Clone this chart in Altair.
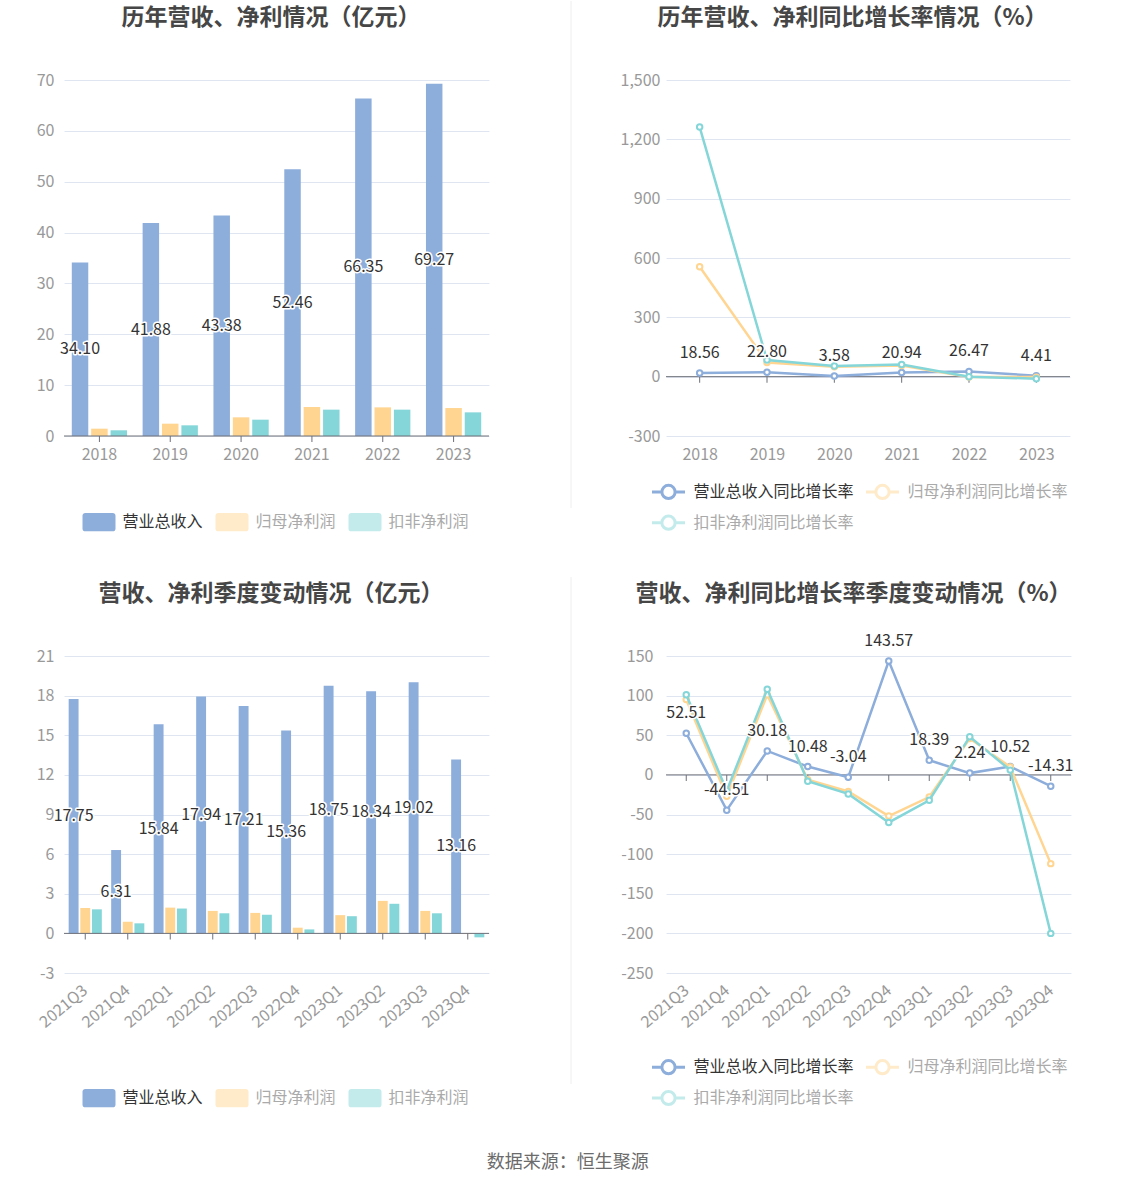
import altair as alt
import pandas as pd

FONT = "Noto Sans CJK SC"

# ---------------- data ----------------
years = ["2018", "2019", "2020", "2021", "2022", "2023"]
revenue = [34.10, 41.88, 43.38, 52.46, 66.35, 69.27]
net_profit = [1.44, 2.42, 3.67, 5.70, 5.63, 5.50]
deducted_profit = [1.12, 2.10, 3.21, 5.18, 5.18, 4.65]

revenue_yoy = [18.56, 22.80, 3.58, 20.94, 26.47, 4.41]
net_profit_yoy = [556.0, 72.0, 50.0, 56.0, -1.2, -2.3]
deducted_profit_yoy = [1262.0, 84.0, 54.0, 61.0, 0.0, -10.2]

quarters = ["2021Q3", "2021Q4", "2022Q1", "2022Q2", "2022Q3",
            "2022Q4", "2023Q1", "2023Q2", "2023Q3", "2023Q4"]
q_revenue = [17.75, 6.31, 15.84, 17.94, 17.21, 15.36, 18.75, 18.34, 19.02, 13.16]
q_net_profit = [1.92, 0.88, 1.95, 1.70, 1.55, 0.43, 1.38, 2.46, 1.70, -0.05]
q_deducted_profit = [1.82, 0.76, 1.88, 1.52, 1.41, 0.30, 1.30, 2.24, 1.52, -0.30]

q_revenue_yoy = [52.51, -44.51, 30.18, 10.48, -3.04, 143.57, 18.39, 2.24, 10.52, -14.31]
q_net_profit_yoy = [95.0, -27.0, 101.0, -6.0, -21.0, -52.0, -28.0, 46.0, 10.0, -112.0]
q_deducted_profit_yoy = [101.0, -20.0, 108.0, -8.0, -24.0, -60.0, -32.0, 48.0, 6.0, -200.0]

bar_series = ["营业总收入", "归母净利润", "扣非净利润"]
line_series = ["营业总收入同比增长率", "归母净利润同比增长率", "扣非净利润同比增长率"]

annual_ticks = [0, 10, 20, 30, 40, 50, 60, 70]
annual_yoy_ticks = [-300, 0, 300, 600, 900, 1200, 1500]
quarter_ticks = [-3, 0, 3, 6, 9, 12, 15, 18, 21]
quarter_yoy_ticks = [-250, -200, -150, -100, -50, 0, 50, 100, 150]

titles = ["历年营收、净利情况（亿元）", "历年营收、净利同比增长率情况（%）",
          "营收、净利季度变动情况（亿元）", "营收、净利同比增长率季度变动情况（%）"]
footer = "数据来源：恒生聚源"

# ---------------- styles ----------------
BRIGHT = ["#8DADDB", "#FFD591", "#85D6D8"]
LEGEND_COLORS = ["#8DADDB", "#FFEBC9", "#C4EBEB"]
AXIS_GRAY = "#999999"
GRID = "#E0E6F1"
AXIS_LINE = "#6E7079"
DARK = "#333333"
TITLE_COLOR = "#464646"
Y_LABEL_EXPR = "replace(format(datum.value, ','), '\u2212', '-')"
LABEL_COLOR_EXPR = {"expr": "indexof(['营业总收入', '营业总收入同比增长率'], datum.label) >= 0 ? '#333333' : '#AAAAAA'"}

RECT_PATH = ("M-0.82,-0.56 L0.82,-0.56 Q1,-0.56 1,-0.38 L1,0.38 Q1,0.56 0.82,0.56 "
             "L-0.82,0.56 Q-1,0.56 -1,0.38 L-1,-0.38 Q-1,-0.56 -0.82,-0.56 Z")
LINE_PATH = ("M-1,0 L-0.4,0 M0.4,0 L1,0 "
             "M0.4,0 C0.4,0.2209 0.2209,0.4 0,0.4 C-0.2209,0.4 -0.4,0.2209 -0.4,0 "
             "C-0.4,-0.2209 -0.2209,-0.4 0,-0.4 C0.2209,-0.4 0.4,-0.2209 0.4,0 Z")


def long_df(cats, names, value_lists):
    rows = []
    for s, vals in zip(names, value_lists):
        for c, v in zip(cats, vals):
            rows.append({"cat": c, "series": s, "value": v, "label": f"{v:.2f}"})
    return pd.DataFrame(rows)


def x_axis(rotate, pad):
    if rotate:
        return alt.Axis(domain=False, ticks=False, labelFont=FONT, labelFontSize=16,
                        labelColor=AXIS_GRAY, labelPadding=pad, labelAngle=-40,
                        labelAlign="right", labelBaseline="middle", labelOverlap=False)
    return alt.Axis(domain=False, ticks=False, labelFont=FONT, labelFontSize=16,
                    labelColor=AXIS_GRAY, labelPadding=pad, labelAngle=0,
                    labelAlign="center", labelBaseline="top", labelOverlap=False)


def y_axis(ticks, pad):
    return alt.Axis(values=ticks, tickCount=len(ticks) + 2, domain=False, ticks=False,
                    grid=True, gridColor=GRID, gridWidth=1, labelFont=FONT,
                    labelFontSize=16, labelColor=AXIS_GRAY, labelPadding=pad,
                    labelExpr=Y_LABEL_EXPR, labelOverlap=False, labelFlush=False)


def text_layer(text, x, y, size, color, weight="normal"):
    return alt.Chart(pd.DataFrame({"t": [text]})).mark_text(
        font=FONT, fontSize=size, fontWeight=weight, color=color,
        align="center", baseline="middle").encode(
        x=alt.value(x), y=alt.value(y), text="t:N")


def zero_axis(cats, x_enc_field):
    rule = alt.Chart(pd.DataFrame({"z": [0]})).mark_rule(
        color=AXIS_LINE, strokeWidth=1).encode(y=alt.Y("z:Q"))
    ticks = alt.Chart(pd.DataFrame({"cat": cats, "z": [0] * len(cats)})).mark_tick(
        orient="vertical", size=6, thickness=1, yOffset=3, color=AXIS_LINE,
        opacity=1).encode(x=x_enc_field, y=alt.Y("z:Q"))
    return rule, ticks


def legend_layer(names, shape, filled, legend_x, legend_y, columns, col_pad):
    kw = dict(orient="none", legendX=legend_x, legendY=legend_y,
              direction="horizontal", title=None, padding=0,
              symbolType=shape, symbolSize=1089,
              symbolStrokeWidth=3 if not filled else 0,
              symbolOpacity=1, labelFont=FONT, labelFontSize=16, labelLimit=400,
              labelOffset=7, columnPadding=col_pad, columns=columns,
              labelColor=LABEL_COLOR_EXPR)
    if columns == 2:
        kw["rowPadding"] = -2
    return alt.Chart(pd.DataFrame({"series": names})).transform_filter(
        "false").mark_point(filled=filled, opacity=1, size=1089, strokeWidth=3,
                            shape=shape).encode(
        color=alt.Color("series:N", sort=names,
                        scale=alt.Scale(domain=names, range=LEGEND_COLORS),
                        legend=alt.Legend(**kw)))


def bar_panel(cats, values, yticks, width, height, rotate, title, title_x,
              legend_x, legend_y, ypad, extras):
    df = long_df(cats, bar_series, values)
    x_enc = alt.X("cat:N", sort=cats, title=None,
                  scale=alt.Scale(paddingInner=0.22, paddingOuter=0.11),
                  axis=x_axis(rotate, 15 if rotate else 10))
    x_plain = alt.X("cat:N", sort=cats)
    y_enc = alt.Y("value:Q", title=None,
                  scale=alt.Scale(domain=[yticks[0], yticks[-1]], nice=False, zero=False),
                  axis=y_axis(yticks, ypad))
    xoff = alt.XOffset("series:N", sort=bar_series, scale=alt.Scale(paddingInner=0.15))

    bars = alt.Chart(df).mark_bar(opacity=1).encode(
        x=x_enc, y=y_enc, y2=alt.datum(0), xOffset=xoff,
        fill=alt.Fill("series:N", sort=bar_series,
                      scale=alt.Scale(range=BRIGHT), legend=None))

    rule, ticks = zero_axis(cats, x_plain)

    lab_df = df[df["series"] == bar_series[0]].copy()
    lab_df["mid"] = lab_df["value"] / 2
    lab_base = alt.Chart(lab_df).encode(
        x=x_plain, xOffset=alt.XOffset("series:N", sort=bar_series),
        y=alt.Y("mid:Q"), text="label:N")
    halo = lab_base.mark_text(font=FONT, fontSize=16, color="white", stroke="white",
                              strokeWidth=3, strokeJoin="round")
    labels = lab_base.mark_text(font=FONT, fontSize=16, color=DARK)

    legend = legend_layer(bar_series, RECT_PATH, True, legend_x, legend_y, 3, 12)
    ttl = text_layer(title, title_x, -62, 23, TITLE_COLOR, "bold")
    layers = [bars, rule, ticks, halo, labels, legend, ttl] + extras
    return alt.layer(*layers).properties(width=width, height=height)


def line_panel(cats, values, yticks, width, height, rotate, title, title_x,
               legend_x, legend_y, ypad, extras):
    df = long_df(cats, line_series, values)
    x_enc = alt.X("cat:N", sort=cats, title=None,
                  scale=alt.Scale(type="point", padding=0.5),
                  axis=x_axis(rotate, 15 if rotate else 10))
    x_plain = alt.X("cat:N", sort=cats)
    y_enc = alt.Y("value:Q", title=None,
                  scale=alt.Scale(domain=[yticks[0], yticks[-1]], nice=False, zero=False),
                  axis=y_axis(yticks, ypad))
    stroke_enc = alt.Stroke("series:N", sort=line_series,
                            scale=alt.Scale(range=BRIGHT), legend=None)

    rule, ticks = zero_axis(cats, x_plain)
    layers = [rule, ticks]
    first = True
    for s in line_series:
        sub = alt.Chart(df).transform_filter(alt.datum.series == s)
        if first:
            line = sub.mark_line(strokeWidth=2.5).encode(x=x_enc, y=y_enc, stroke=stroke_enc)
            first = False
        else:
            line = sub.mark_line(strokeWidth=2.5).encode(x=x_plain, y="value:Q", stroke=stroke_enc)
        pts = sub.mark_point(filled=False, fill="white", size=30, strokeWidth=2,
                             opacity=1).encode(x=x_plain, y="value:Q", stroke=stroke_enc)
        layers += [line, pts]

    lab_df = df[df["series"] == line_series[0]]
    lab_base = alt.Chart(lab_df).encode(x=x_plain, y=alt.Y("value:Q"), text="label:N")
    halo = lab_base.mark_text(font=FONT, fontSize=16, color="white", stroke="white",
                              strokeWidth=3, strokeJoin="round", dy=-20)
    labels = lab_base.mark_text(font=FONT, fontSize=16, color=DARK, dy=-20)

    legend = legend_layer(line_series, LINE_PATH, False, legend_x, legend_y, 2, 5)
    ttl = text_layer(title, title_x, -62, 23, TITLE_COLOR, "bold")
    layers += [halo, labels, legend, ttl] + extras
    return alt.layer(*layers).properties(width=width, height=height)


sep_df = pd.DataFrame({"s": [0]})
sep_top = alt.Chart(sep_df).mark_rule(color="#EEEEEE", strokeWidth=1).encode(
    x=alt.value(507), y=alt.value(-79), y2=alt.value(428))
anchor = alt.Chart(sep_df).mark_rule(color="white", strokeWidth=1).encode(
    x=alt.value(-63), x2=alt.value(-62), y=alt.value(-79))
sep_bottom = alt.Chart(sep_df).mark_rule(color="#EEEEEE", strokeWidth=1).encode(
    x=alt.value(507), y=alt.value(-79), y2=alt.value(428))
foot = text_layer(footer, 503.7, 507, 18, "#6B6B6B")

tl = bar_panel(years, [revenue, net_profit, deducted_profit], annual_ticks, 425, 356,
               False, titles[0], 207, 18.5, 425.5, 10, [sep_top, anchor])
tr = line_panel(years, [revenue_yoy, net_profit_yoy, deducted_profit_yoy],
                annual_yoy_ticks, 404, 356, False, titles[1], 186.5, -15.5, 393.7, 6, [])
bl = bar_panel(quarters, [q_revenue, q_net_profit, q_deducted_profit], quarter_ticks,
               425, 317, True, titles[2], 207, 18.5, 425.5, 10, [sep_bottom, foot])
br = line_panel(quarters, [q_revenue_yoy, q_net_profit_yoy, q_deducted_profit_yoy],
                quarter_yoy_ticks, 405, 317, True, titles[3], 187.5, -15.5, 393.0, 13, [])

chart = alt.concat(tl, tr, bl, br, columns=2, bounds="flush",
                   spacing={"row": 220, "column": 177}).resolve_scale(
    x="independent", y="independent", xOffset="independent",
    color="independent", fill="independent", stroke="independent").resolve_legend(
    color="independent").properties(padding=0, background="white").configure_view(stroke=None)

chart.save("out.html", embed_options={"renderer": "svg", "actions": False})
